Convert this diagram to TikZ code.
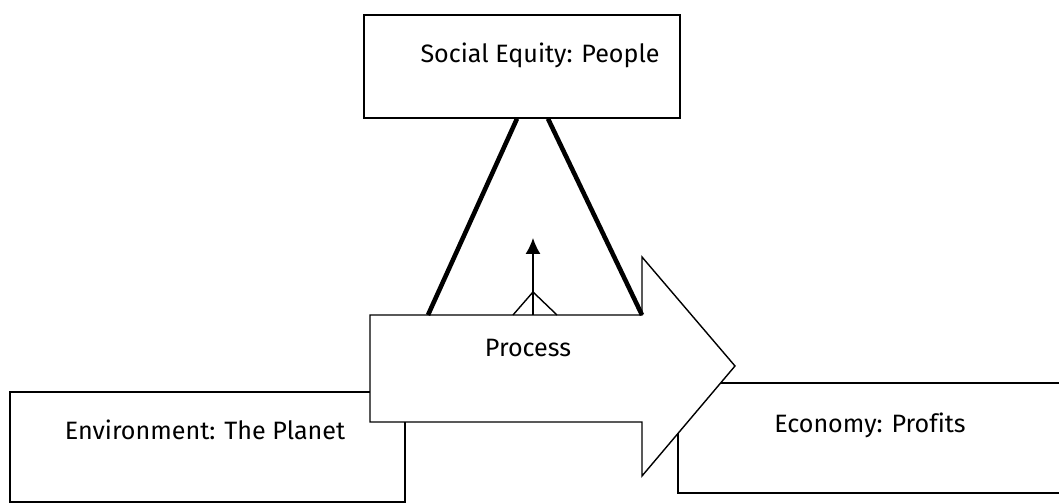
\documentclass[tikz,border=0pt]{standalone}
\usepackage{fontspec}
\usepackage{xcolor}
\setmainfont{Fira Sans}[Ligatures=NoCommon]
\usetikzlibrary{arrows.meta}

\begin{document}
\begin{tikzpicture}
    \tikzstyle{pillar} = [rectangle, draw, line width=0.8pt, fill=white, inner sep=0pt]
    \tikzstyle{caption} = [font=\fontsize{14.3}{16}\selectfont, inner sep=0pt]
    \tikzstyle{leg} = [line width=2.6pt]
    \useasboundingbox (0,0) rectangle (21.18,10.08);

    % three pillars
    \node[pillar, minimum width=7.9cm, minimum height=2.2cm] (planet) at (4.15,1.14) {};
    \node[pillar, minimum width=7.84cm, minimum height=2.2cm] (profits) at (17.48,1.32) {};

    % the process arrow
    \draw[line width=0.8pt, fill=white] (7.4,3.78) coordinate (procTL) -- (12.84,3.78) coordinate (procTR)
        -- (12.84,4.94) -- (14.7,2.76) coordinate (procTip) -- (12.84,0.56) -- (12.84,1.64) -- (7.4,1.64) -- cycle;
    \node[caption] (process) at (10.56,3.12) {Process};

    \node[pillar, minimum width=6.32cm, minimum height=2.06cm] (people) at (10.44,8.75) {};

    % triangle legs
    \coordinate (legL) at (8.56,3.78);
    \draw[leg] (legL) -- ([xshift=-0.1cm]people.south);
    \draw[leg] (procTR) -- ([xshift=0.52cm]people.south);

    % small upward arrow
    \coordinate (baseM) at (10.66,3.78);
    \draw[line width=0.8pt, -{Latex[length=3.2mm,width=3mm]}] (baseM) -- ++(0,1.54);
    \draw[line width=0.8pt] ([xshift=-0.4cm]baseM) -- ++(0.4,0.46) -- ++(0.48,-0.46);

    \node[caption] at (10.8,8.98) {Social Equity: People};
    \node[caption] at (4.1,1.48) {Environment: The Planet};
    \node[caption] at (17.4,1.58) {Economy: Profits};
\end{tikzpicture}
\end{document}
